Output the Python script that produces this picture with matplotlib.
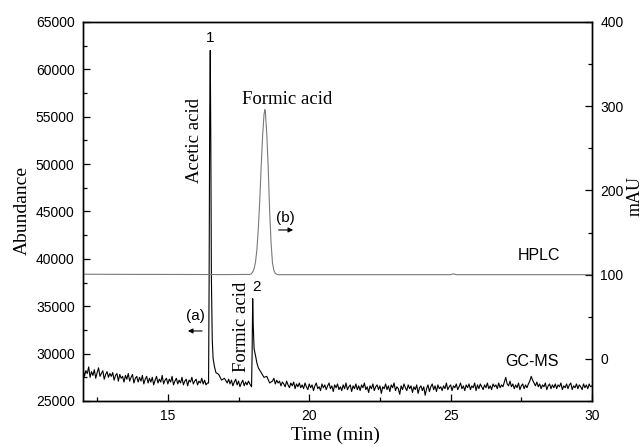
import numpy as np
import matplotlib
matplotlib.use("Agg")
import matplotlib.pyplot as plt
from matplotlib.ticker import MultipleLocator

plt.rcParams["font.family"] = "Liberation Sans"
SERIF = "Liberation Serif"

# ── GC-MS trace (abundance, left axis), sampled every 0.05 min ──
gc_t_a = np.round(np.arange(12.0, 16.401, 0.05), 2)
gc_y_a = [28400, 27600, 28200, 27900, 28600, 27500, 28100, 27700, 28300, 27400,
          28000, 28500, 27600, 27900, 28200, 27300, 27800, 28100, 27500, 27900,
          27600, 28000, 27200, 27700, 27900, 27100, 27800, 27400, 27600, 27000,
          27700, 27300, 27900, 27100, 27500, 27800, 26900, 27400, 27600, 27000,
          27500, 27100, 27700, 26800, 27300, 27600, 26900, 27400, 27000, 27500,
          26700, 27200, 27600, 26900, 27300, 27000, 27700, 26800, 27200, 27400,
          26800, 27300, 27000, 27600, 26700, 27100, 27400, 26800, 27200, 26900,
          27500, 26700, 27100, 27300, 26600, 27200, 27000, 27500, 26800, 27100,
          27300, 26700, 27100, 26900, 27400, 26800, 27200, 26700, 26900]

# acetic acid peak (1)
gc_t_p1 = [16.44, 16.46, 16.48, 16.50, 16.52, 16.54, 16.57, 16.60, 16.65,
           16.70, 16.80, 16.90, 17.00, 17.10]
gc_y_p1 = [26900, 38000, 55000, 62000, 52000, 38000, 31500, 29500, 28600,
           28000, 27800, 27200, 27400, 26900]

gc_t_b = np.round(np.arange(17.15, 17.901, 0.05), 2)
gc_y_b = [27300, 26800, 27200, 26600, 27000, 27300, 26700, 27100, 26500, 26900,
          27200, 26600, 27000, 26700, 27100, 26800]

# formic acid peak (2)
gc_t_p2 = [17.96, 17.98, 18.00, 18.02, 18.05, 18.10, 18.15, 18.20, 18.30,
           18.40, 18.50, 18.60, 18.70]
gc_y_p2 = [26500, 30000, 35800, 33000, 30500, 29800, 29000, 28500, 28000,
           27500, 27600, 26900, 27100]

gc_t_c = np.round(np.arange(18.75, 30.001, 0.05), 2)
gc_y_c = [27400, 26800, 27200, 26900, 27100, 26600, 27000, 26800, 26500, 27100,
          26700, 26400, 26900, 26600, 27000, 26300, 26800, 26500, 26900, 26400,
          26700, 26300, 26900, 26500, 26200, 26800, 26400, 26700, 26100, 26600,
          26900, 26300, 26500, 26100, 26800, 26400, 26700, 26200, 26600, 26900,
          26300, 26600, 26000, 26700, 26400, 26800, 26200, 26500, 26100, 26700,
          26300, 26900, 26200, 26500, 26700, 26000, 26600, 26300, 26800, 26200,
          26600, 26100, 26700, 26400, 26900, 26200, 26500, 25900, 26600, 26300,
          26800, 26100, 26500, 26700, 26200, 26600, 25800, 26500, 26300, 26800,
          26200, 26600, 26000, 26700, 26400, 26900, 26100, 26500, 26300, 25700,
          26600, 26200, 26800, 26400, 26100, 26700, 26300, 26600, 25900, 26500,
          26200, 26700, 25800, 26400, 26600, 26100, 26500, 25600, 26300, 26700,
          26000, 26500, 26800, 26200, 26600, 26000, 26700, 26300, 26500, 26100,
          26600, 26300, 26900, 26200, 26500, 26700, 26100, 26600, 26400, 26800,
          26200, 26500, 26900, 26300, 26600, 26100, 26700, 26400, 26800, 26200,
          26600, 26400, 26900, 26100, 26700, 26300, 26800, 26500, 26200, 26700,
          26400, 26900, 26300, 26600, 26200, 26800, 26500, 26700, 26300, 26900,
          26400, 26700, 26500, 27000, 27500, 26800, 26600, 27100, 26500, 26800,
          26300, 26700, 26400, 26900, 26200, 26600, 26800, 26300, 26700, 26400,
          26800, 27100, 27600, 27200, 26900, 26600, 27000, 26500, 26800, 26300,
          26700, 26500, 26900, 26200, 26600, 26800, 26300, 26700, 26400, 26800,
          26300, 26700, 26500, 26900, 26200, 26600, 26400, 26800, 26300, 26700,
          26900, 26200, 26600, 26400, 26800, 26300, 26700, 26500, 26200, 26800,
          26400, 26700, 26300, 26800, 26500, 26600]

gc_t = np.concatenate([gc_t_a, gc_t_p1, gc_t_b, gc_t_p2, gc_t_c])
gc_y = np.concatenate([gc_y_a, gc_y_p1, gc_y_b, gc_y_p2, gc_y_c])

# ── HPLC trace (mAU, right axis) ───────────────────────────
hplc_t = [12.0, 14.0, 16.0, 17.0, 17.5, 17.9, 17.95, 18.0, 18.05, 18.1, 18.15,
          18.2, 18.25, 18.3, 18.35, 18.4, 18.43, 18.45, 18.5, 18.55, 18.6,
          18.65, 18.7, 18.75, 18.8, 18.85, 18.9, 20.0, 25.0, 25.1, 25.2, 30.0]
hplc_y = [100.5, 100.3, 100.2, 100.1, 100.2, 100.3, 101, 103, 107, 115, 130,
          155, 188, 228, 264, 290, 296, 293, 266, 226, 176,
          138, 114, 105, 101.5, 100.5, 100, 100, 100, 101, 100, 100]

fig = plt.figure(figsize=(6.43, 4.46), dpi=100)
ax = fig.add_axes([0.1291, 0.1009, 0.7916, 0.8498])
ax2 = ax.twinx()

ax.plot(gc_t, gc_y, color="black", lw=0.8)
ax2.plot(hplc_t, hplc_y, color="#7a7a7a", lw=0.8)

ax.set_xlim(12, 30)
ax.set_ylim(25000, 65000)
ax2.set_ylim(-50, 400)

ax.xaxis.set_major_locator(MultipleLocator(5))
ax.xaxis.set_minor_locator(MultipleLocator(2.5))
ax.yaxis.set_major_locator(MultipleLocator(5000))
ax.yaxis.set_minor_locator(MultipleLocator(2500))
ax2.set_yticks([0, 100, 200, 300, 400])
ax2.yaxis.set_minor_locator(MultipleLocator(50))

for a in (ax, ax2):
    a.tick_params(which="major", direction="in", length=5, width=0.9,
                  labelsize=10, pad=6)
    a.tick_params(which="minor", direction="in", length=3, width=0.9)
    for s in a.spines.values():
        s.set_linewidth(1.0)
ax.tick_params(axis="x", which="both", top=False)

# ── annotations ────────────────────────────────────────────
ax.text(16.49, 63300, "1", fontsize=11, ha="center", va="center")
ax.text(15.96, 52440, "Acetic acid", family=SERIF, fontsize=13.5,
        rotation=90, ha="center", va="center")
ax.text(19.23, 56870, "Formic acid", family=SERIF, fontsize=13.5,
        ha="center", va="center")
ax.text(17.62, 32810, "Formic acid", family=SERIF, fontsize=13.5,
        rotation=90, ha="center", va="center")
ax.text(18.12, 37030, "2", fontsize=11, ha="center", va="center")
ax.text(15.96, 33970, "(a)", fontsize=11, ha="center", va="center")
ax.annotate("", xy=(15.61, 32390), xytext=(16.31, 32390),
            arrowprops=dict(arrowstyle="-|>", color="black", lw=0.8,
                            mutation_scale=7))
ax.text(19.14, 44310, "(b)", fontsize=11, ha="center", va="center")
ax.annotate("", xy=(19.53, 43050), xytext=(18.82, 43050),
            arrowprops=dict(arrowstyle="-|>", color="black", lw=0.8,
                            mutation_scale=7))
ax.text(28.87, 40310, "HPLC", fontsize=11.5, ha="right", va="center")
ax.text(28.83, 29120, "GC-MS", fontsize=11.5, ha="right", va="center")

fig.text(0.034, 0.527, "Abundance", family=SERIF, fontsize=14,
         rotation=90, ha="center", va="center")
fig.text(0.521, 0.025, "Time (min)", family=SERIF, fontsize=14,
         ha="center", va="center")
fig.text(0.988, 0.56, "mAU", family=SERIF, fontsize=13,
         rotation=90, ha="center", va="center")

fig.savefig("out.png", dpi=100)
